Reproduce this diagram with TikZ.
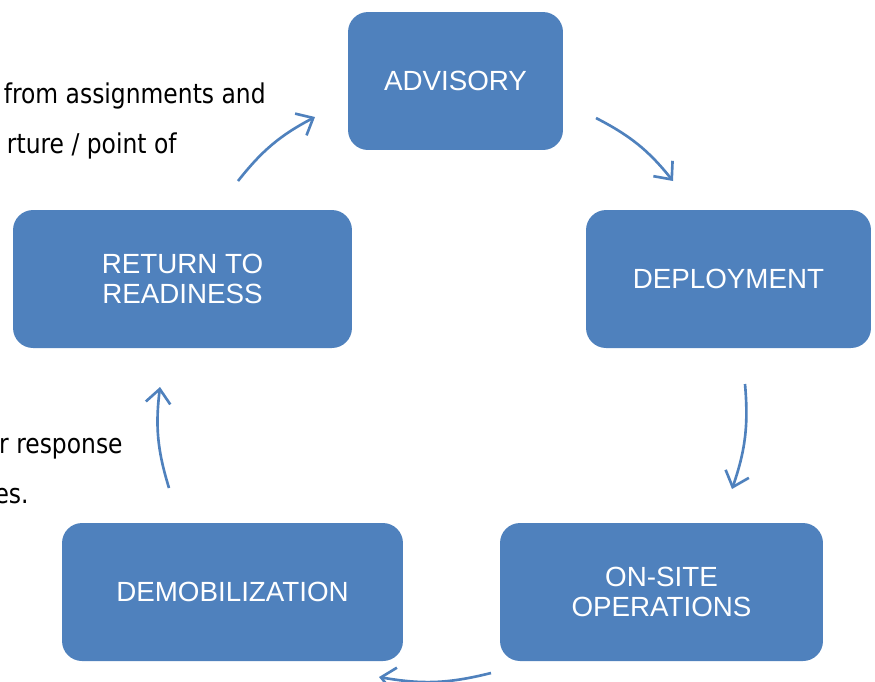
\documentclass[tikz,border=0pt]{standalone}
\usepackage{fontspec}
\setmainfont{Liberation Sans}
\newfontfamily\notefont[FakeStretch=0.86]{DejaVu Sans}
\usetikzlibrary{arrows.meta}
\definecolor{boxblue}{HTML}{4F81BD}

\begin{document}
\begin{tikzpicture}[x=0.02cm, y=-0.02cm,
    box/.style={rectangle, rounded corners=0.4cm, fill=boxblue, text=white,
      minimum height=2.76cm, align=center, inner sep=0pt,
      font=\fontsize{15.8}{16.6}\selectfont},
    note/.style={anchor=base east, inner sep=0pt, font=\notefont\fontsize{15.5}{17}\selectfont},
    flow/.style={draw=boxblue, line width=1.5pt, -{Straight Barb[length=8pt, width=14pt, line width=1.5pt]}}]
      \useasboundingbox (0,0) rectangle (875,681);
      % text of the page behind the cycle
      \node (n1) at (266,103) [note] {from assignments and};
      \node (n2) at (177,153) [note] {rture / point of};
      \node (n3) at (123,453) [note] {r response};
      \node (n4) at (29,503) [note] {es.};
      % the five stages
      \node (adv) at (455.5,81) [box, minimum width=4.3cm] {ADVISORY};
      \node (dep) at (728.5,279) [box, minimum width=5.7cm] {DEPLOYMENT};
      \node (ops) at (661.5,592) [box, minimum width=6.46cm] {ON-SITE\\OPERATIONS};
      \node (dem) at (232.5,592) [box, minimum width=6.82cm] {DEMOBILIZATION};
      \node (ret) at (182.5,279) [box, minimum width=6.78cm] {RETURN TO\\READINESS};
      % arrow ends
      \coordinate (a1) at (596,118);
      \coordinate (b1) at (673,181);
      \coordinate (a2) at (745,384);
      \coordinate (b2) at (732,489);
      \coordinate (a3) at (491,673);
      \coordinate (b3) at (379,677);
      \coordinate (a4) at (169,488);
      \coordinate (b4) at (160,387);
      \coordinate (a5) at (238,181);
      \coordinate (b5) at (315,117);
      \foreach \source/\dest in {a1/b1, a2/b2, a3/b3, a4/b4, a5/b5}
        \path[flow] (\source) to[bend left=12] (\dest);
    \end{tikzpicture}
\end{document}
